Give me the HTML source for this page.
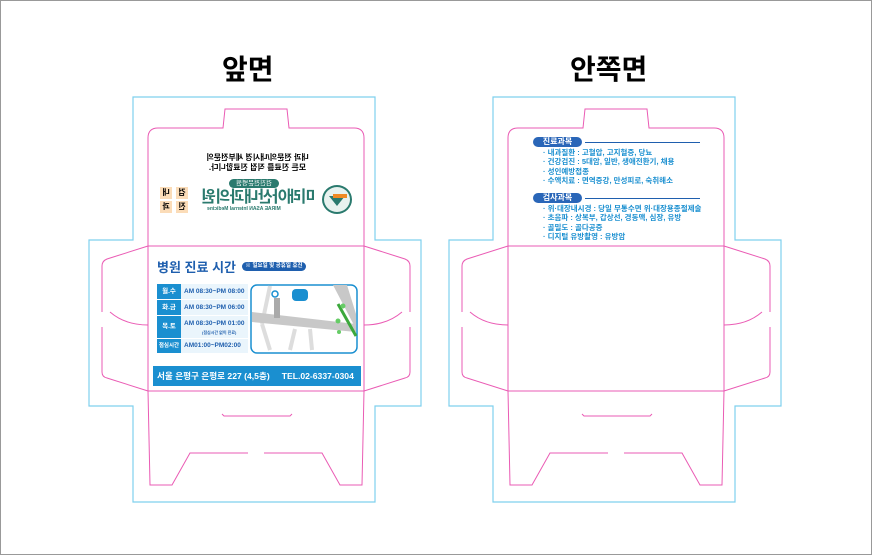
<!DOCTYPE html>
<html><head><meta charset="utf-8"><style>
*{margin:0;padding:0;box-sizing:border-box}
body{width:872px;height:555px;background:#fff;position:relative;overflow:hidden;font-family:"Liberation Sans","Noto Sans CJK KR",sans-serif}
.a{position:absolute;white-space:nowrap}
.m{transform:scaleX(-1)}
.li{font-size:7.5px;font-weight:bold;color:#1a8fd0;line-height:9.4px}
.pill{background:#1f5fae;color:#fff;border-radius:6px;font-size:8px;font-weight:bold;text-align:center;line-height:10px}
.lab{background:#1a8fd0;color:#fff;font-size:6.5px;font-weight:bold;text-align:center}
.val{background:#eaf5fc;color:#1f5fae;font-size:6.5px;font-weight:bold;padding-left:3px}
</style></head><body>
<svg class="a" style="left:0;top:0" width="872" height="555">
<rect x="0.5" y="0.5" width="871" height="554" fill="none" stroke="#999"/>
<g id="d" fill="none">
<path d="M133 97H375V240H421V406H375V502H133V406H89V240H133Z" stroke="#7fd0ee" stroke-width="1.2"/>
<g stroke="#ea5bb4" stroke-width="1">
<path d="M148 246V138Q148 128 158 128H223L225 109H287L289 128H354Q364 128 364 138V246"/>
<path d="M148 246H364M148 391H364M148 246V391M364 246V391"/>
<path d="M148 391L150 485H172L190 453H248M264 453H322L340 485H362L364 391"/>
<path d="M222 414L224 416H290L292 414"/>
<path d="M148 246L107 259Q102 261 102 266V312M102 327V372Q102 377 107 378L148 391M110 312Q125 325 148 325"/>
<path d="M364 246L405 259Q410 261 410 266V312M410 327V372Q410 377 405 378L364 391M402 312Q387 325 364 325"/>
</g></g>
<use href="#d" x="360"/>
</svg>
<div class="a" style="left:222px;top:48px;font-size:28px;font-weight:bold">앞면</div>
<div class="a" style="left:570px;top:48px;font-size:28px;font-weight:bold">안쪽면</div>

<div class="a m" style="left:200px;top:153px;width:115px;text-align:center;font-size:8px;font-weight:bold;line-height:10px">내과 전문의/내시경 세부전문의<br>모든 진료를 직접 진료합니다.</div>
<div class="a m" style="left:229px;top:179px;width:50px;height:9px;background:#2a7a6e;border-radius:5px;color:#fff;font-size:6.5px;text-align:center;line-height:9px">검진전문병원</div>
<div class="a m" style="left:197px;top:189px;width:123px;font-size:16px;font-weight:bold;color:#2a7a6e;line-height:17px;text-align:center;letter-spacing:-0.5px">미래아산내과의원</div>
<div class="a m" style="left:207px;top:206px;font-size:5px;font-weight:bold;color:#2a7a6e">MIRAE ASAN Internal Medicine</div>
<div class="a" style="left:322px;top:185px;width:30px;height:29px;border-radius:50%;border:2px solid #2a7a6e;background:#e8f2ef"></div>
<div class="a" style="left:329px;top:196px;width:16px;height:10px;background:#2a7a6e;clip-path:polygon(0 0,100% 0,50% 100%)"></div>
<div class="a" style="left:333px;top:194px;width:14px;height:4px;background:#f08a24"></div>
<div class="a m" style="left:160px;top:187px;width:12px;height:12px;background:#fbdcb8;font-size:8px;text-align:center;font-weight:bold">내</div>
<div class="a m" style="left:176px;top:187px;width:12px;height:12px;background:#fbdcb8;font-size:8px;text-align:center;font-weight:bold">검</div>
<div class="a m" style="left:160px;top:201px;width:12px;height:12px;background:#fbdcb8;font-size:8px;text-align:center;font-weight:bold">과</div>
<div class="a m" style="left:176px;top:201px;width:12px;height:12px;background:#fbdcb8;font-size:8px;text-align:center;font-weight:bold">진</div>

<div class="a" style="left:157px;top:257px;font-size:13px;font-weight:bold;color:#1f5fae">병원 진료 시간</div>
<div class="a pill" style="left:242px;top:262px;width:64px;height:9px;font-size:5.5px;line-height:9px">※ 일요일 및 공휴일 휴진</div>
<div class="a lab" style="left:157px;top:284px;width:24px;height:15px;line-height:15px">월.수</div>
<div class="a val" style="left:181px;top:284px;width:67px;height:15px;line-height:15px">AM 08:30~PM 08:00</div>
<div class="a lab" style="left:157px;top:300px;width:24px;height:15px;line-height:15px">화.금</div>
<div class="a val" style="left:181px;top:300px;width:67px;height:15px;line-height:15px">AM 08:30~PM 06:00</div>
<div class="a lab" style="left:157px;top:316px;width:24px;height:22px;line-height:22px">목.토</div>
<div class="a val" style="left:181px;top:316px;width:67px;height:22px;line-height:9px;padding-top:3px">AM 08:30~PM 01:00<br><span style="font-size:4px;padding-left:18px">(점심시간 없이 진료)</span></div>
<div class="a lab" style="left:157px;top:339px;width:24px;height:14px;line-height:14px;font-size:5.5px">점심시간</div>
<div class="a val" style="left:181px;top:339px;width:67px;height:14px;line-height:14px">AM01:00~PM02:00</div>
<svg class="a" style="left:250px;top:284px" width="108" height="70">
<rect x="1" y="1" width="106" height="68" rx="6" fill="#fff" stroke="#1a8fd0" stroke-width="1.5"/>
<path d="M20 2L12 40M12 40L20 66M45 45L40 66M60 45L62 66" stroke="#ddd" stroke-width="4" fill="none"/>
<path d="M2 28L106 40V48L2 38Z" fill="#c8c8c8"/>
<path d="M83 1L97 1L106 30V45Z" fill="#c8c8c8"/>
<path d="M88 20L106 52" stroke="#3ca83c" stroke-width="3"/>
<rect x="42" y="5" width="16" height="12" rx="4" fill="#1a8fd0"/>
<circle cx="25" cy="10" r="3" fill="none" stroke="#1a8fd0" stroke-width="1.5"/>
<rect x="24" y="14" width="6" height="20" fill="#aaa"/>
<circle cx="88" cy="37" r="2.5" fill="#6c6"/><circle cx="93" cy="22" r="2.5" fill="#6c6"/><circle cx="89" cy="48" r="2" fill="#6c6"/>
</svg>
<div class="a" style="left:153px;top:366px;width:208px;height:20px;background:#1a8fd0;color:#fff;font-size:8.6px;font-weight:bold;line-height:20px;padding-left:4px;overflow:hidden">서울 은평구 은평로 227 (4,5층)<span style="margin-left:12px">TEL.02-6337-0304</span></div>

<div class="a pill" style="left:533px;top:137px;width:49px;height:10px;background:#2a66b8">진료과목</div>
<div class="a" style="left:585px;top:142px;width:115px;height:1px;background:#1f5fae"></div>
<div class="a li" style="left:543px;top:148px">· 내과질환 : 고혈압, 고지혈증, 당뇨<br>· 건강검진 : 5대암, 일반, 생애전환기, 채용<br>· 성인예방접종<br>· 수액치료 : 면역증강, 만성피로, 숙취해소</div>
<div class="a pill" style="left:533px;top:193px;width:49px;height:10px;background:#2a66b8">검사과목</div>
<div class="a" style="left:585px;top:198px;width:115px;height:1px;background:#1f5fae"></div>
<div class="a li" style="left:543px;top:204px">· 위·대장내시경 : 당일 무통수면 위·대장용종절제술<br>· 초음파 : 상복부, 갑상선, 경동맥, 심장, 유방<br>· 골밀도 : 골다공증<br>· 디지털 유방촬영 : 유방암</div>
</body></html>
